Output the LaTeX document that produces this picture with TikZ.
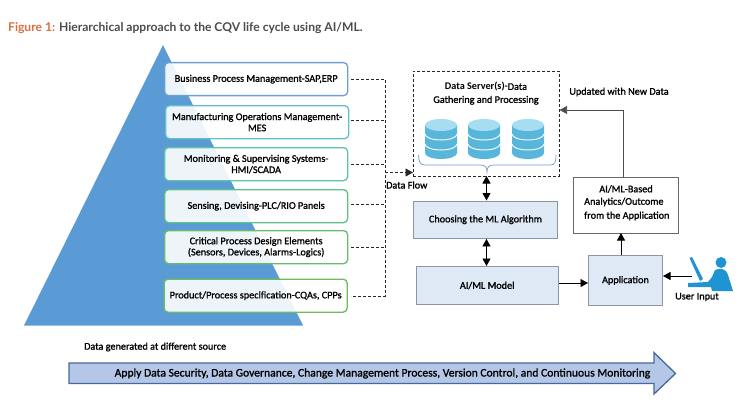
\documentclass[tikz,border=0pt]{standalone}
\usepackage{fontspec}
\setmainfont{Carlito}
\newfontfamily\lf{Carlito}[FakeBold=1.2]
\newfontfamily\rb{Carlito Bold}
\newfontfamily\titlefont{Lato}
\usetikzlibrary{arrows.meta}
\definecolor{pyr}{HTML}{5B9BD5}
\definecolor{lblue}{HTML}{DEE9F5}
\definecolor{gb}{HTML}{8C97A6}
\definecolor{cylb}{HTML}{58B6DB}
\definecolor{cylt}{HTML}{A6DDF0}
\definecolor{ub}{HTML}{1F94D2}
\definecolor{c1}{HTML}{6C9FD3}
\definecolor{c2}{HTML}{62C0CC}
\definecolor{c3}{HTML}{5CC6A4}
\definecolor{c4}{HTML}{5CC182}
\definecolor{c5}{HTML}{66BE6C}
\definecolor{c6}{HTML}{6DBD5E}
\definecolor{arrf}{HTML}{B4C7E7}
\definecolor{arrb}{HTML}{46699B}
\definecolor{brc}{HTML}{7396CC}
\tikzset{
 x=1pt,y=-1pt,
 lay/.style={draw=#1,line width=1.3pt,rounded corners=4pt,fill=white,fill opacity=.9,text opacity=1,font=\fontsize{10.2}{11.2}\selectfont\lf,align=center,minimum width=183pt,minimum height=33pt,inner sep=0pt,anchor=north west},
 blk/.style={draw=gb,line width=.9pt,fill=lblue,inner sep=0pt,font=\fontsize{10.2}{12}\selectfont\lf,align=center,anchor=north west},
 dsh/.style={densely dashed,line width=.6pt,black!85},
 arr/.style={-{Triangle[length=7.5pt,width=8pt]},line width=.8pt,black},
 darr/.style={{Triangle[length=7.5pt,width=8pt]}-{Triangle[length=7.5pt,width=8pt]},line width=.8pt,black},
 lbl/.style={font=\fontsize{10.2}{12}\selectfont\lf,inner sep=0pt}
}
\newcommand{\dbcyl}[1]{%
 \begin{scope}[xshift=#1 pt]
 \fill[cylb] (0,125) -- (0,153) arc[start angle=180,end angle=0,x radius=16,y radius=6] -- (32,125) -- cycle;
 \fill[cylt] (16,125) ellipse[x radius=16,y radius=6];
 \draw[white!85!cylt,line width=1pt] (0,134) arc[start angle=180,end angle=0,x radius=16,y radius=6];
 \draw[white!85!cylt,line width=1pt] (0,144) arc[start angle=180,end angle=0,x radius=16,y radius=6];
 \end{scope}}
\begin{document}
\begin{tikzpicture}
\useasboundingbox (0,0) rectangle (750,420);
\node[anchor=west,inner sep=0pt,font=\titlefont\fontsize{12.1}{14}\selectfont\bfseries,text=black!70] (title) at (8,28) {\textcolor[HTML]{D9703F}{Figure 1:} Hierarchical approach to the CQV life cycle using AI/ML.};
\fill[pyr] (163,45) -- (303,325.5) -- (24,325.5) -- cycle;
\node[lay=c1] (b1) at (164,62) {Business Process Management-SAP,ERP};
\node[lay=c2] (b2) at (165,105) {Manufacturing Operations Management-\\MES};
\node[lay=c3] (b3) at (164,147) {Monitoring \& Supervising Systems-\\HMI/SCADA};
\node[lay=c4] (b4) at (164,189) {Sensing, Devising-PLC/RIO Panels};
\node[lay=c5] (b5) at (164,230) {Critical Process Design Elements\\(Sensors, Devices, Alarms-Logics)};
\node[lay=c6] (b6) at (163.5,278.5) {Product/Process specification-CQAs, CPPs};
\coordinate (t) at (385,79);
\coordinate (u) at (385,296);
\coordinate (m) at (385,172.5);
\draw[dsh] (351,79) -- (t) -- (u) -- (351,296);
\draw[dsh] (351,120) -- (385,120);
\draw[dsh] (351,164) -- (385,164);
\draw[dsh] (351,204) -- (385,204);
\draw[dsh] (351,247) -- (385,247);
\node[lbl,anchor=west] (df) at (386,185) {Data Flow};
\node[draw=black!85,densely dashed,line width=.6pt,minimum width=146pt,minimum height=105pt,inner sep=0pt,anchor=north west] (ds) at (413,71) {};
\draw[dsh,-{Triangle[length=7.5pt,width=8pt]}] (m) -- (m -| ds.west);
\node[lbl,align=center,anchor=center,font=\fontsize{10.2}{13}\selectfont\lf] (dst) at (486,93.5) {{\rb\bfseries Data Server(s)-}Data\\Gathering and Processing};
\dbcyl{425}\dbcyl{468}\dbcyl{512}
\draw[draw=brc,line width=.7pt] (418.5,155) .. controls (419,162) and (420,165) .. (425,165) -- (480,165) .. controls (485,165) and (487,167) .. (487,172) .. controls (487,167) and (489,165) .. (494,165) -- (550,165) .. controls (555,165) and (556,162) .. (556,155);
\node[blk,minimum width=144pt,minimum height=37.5pt] (alg) at (413,200.5) {Choosing the ML Algorithm};
\node[blk,minimum width=141.5pt,minimum height=38pt] (mod) at (416,266) {AI/ML Model};
\node[blk,minimum width=74pt,minimum height=50pt] (app) at (588,255) {Application};
\node[draw=gb!70!black,line width=.9pt,fill=white,minimum width=105pt,minimum height=56pt,inner sep=0pt,anchor=north west] (an) at (573,177) {};
\node[lbl,anchor=center] (an1) at (626,189) {AI/ML-Based};
\node[lbl,anchor=west] (an2) at (584,202) {Analytics/Outcome};
\node[lbl,anchor=west] (an3) at (584,216) {from the Application};
\node[lbl,anchor=center] (upd) at (619,92) {Updated with New Data};
\coordinate (alg1) at (486.5,200.5);
\draw[darr] (486.5,176) -- (alg.north -| alg1);
\draw[darr] (alg.south -| alg1) -- (mod.north -| alg1);
\draw[arr] (558.5,283) -- (588,283);
\draw[arr] (621,255) -- (621,233);
\draw[arr,draw=black!70] (623.5,177) -- (623.5,110) -- (ds.east |- 0,110);
\draw[arr] (692,276) -- (663,276);
\node[lbl,anchor=center] (ui) at (697,297) {User Input};
% user icon
\fill[ub] (721,262.5) circle[radius=5.5];
\fill[ub] (689.5,258) -- (692,257) -- (703,279) -- (700,281) -- cycle;
\fill[ub] (688,283) -- (708,282) -- (712,277) -- (715,270) .. controls (720,267.5) and (727,269) .. (728,275) -- (733,291) -- (712,291) -- (711,287) -- (688,287) -- cycle;
\node[lbl,anchor=west] (dg) at (84,347) {Data generated at different source};
\draw[draw=arrb,line width=1.3pt,fill=arrf] (69,363) -- (654,363) -- (654,352.5) -- (675.5,373.5) -- (654,394) -- (654,383.5) -- (69,383.5) -- cycle;
\node[font=\fontsize{11.6}{14}\selectfont\lf,inner sep=0pt] (at) at (382.5,373.5) {Apply Data Security, Data Governance, Change Management Process, Version Control, and Continuous Monitoring};
\end{tikzpicture}
\end{document}
